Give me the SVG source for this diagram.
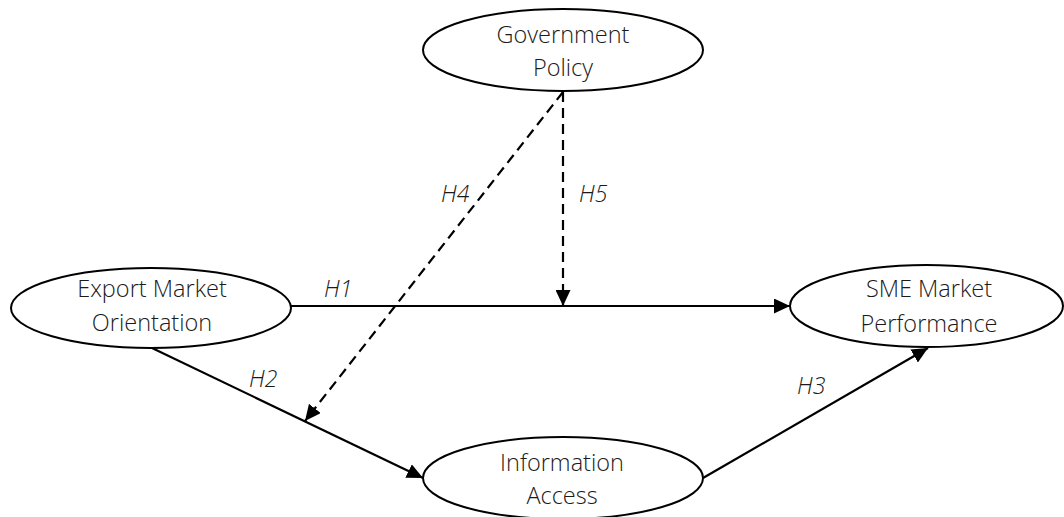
<svg xmlns="http://www.w3.org/2000/svg" width="1064" height="517" viewBox="0 0 1064 517">
<style>
.node ellipse{fill:#fff;stroke:#000;stroke-width:2}
.node text{font-family:"Open Sans","Noto Sans",sans-serif;font-weight:300;font-size:23.5px;fill:#1a1a1a;text-anchor:middle}
.lbl{font-family:"Open Sans","Noto Sans",sans-serif;font-weight:300;font-style:italic;font-size:23px;fill:#1a1a1a}
.edge{stroke:#000;stroke-width:2.2;fill:none}
.dash{stroke-dasharray:10 6}
</style>
<defs>
<marker id="ah" markerUnits="userSpaceOnUse" markerWidth="17" markerHeight="15" refX="16" refY="7.5" orient="auto">
<path d="M0,0 L16,7.5 L0,15 Z" fill="#000"/>
</marker>
</defs>
<g id="connectors">
<line class="edge" x1="291" y1="306" x2="790" y2="306" marker-end="url(#ah)"/>
<line class="edge" x1="152" y1="348" x2="423" y2="478" marker-end="url(#ah)"/>
<line class="edge" x1="703" y1="478" x2="928" y2="348" marker-end="url(#ah)"/>
<line class="edge dash" x1="563" y1="92" x2="305" y2="421" marker-end="url(#ah)"/>
<line class="edge dash" x1="563" y1="92" x2="563" y2="306" marker-end="url(#ah)"/>
<text class="lbl" x="324" y="297">H1</text>
<text class="lbl" x="249" y="387">H2</text>
<text class="lbl" x="797" y="394">H3</text>
<text class="lbl" x="441" y="202">H4</text>
<text class="lbl" x="579" y="202">H5</text>
</g>
<g id="government-policy" class="node">
<ellipse cx="563" cy="50" rx="140" ry="41"/>
<text x="563" y="43">Government</text>
<text x="563" y="76">Policy</text>
</g>
<g id="export-market-orientation" class="node">
<ellipse cx="151" cy="308" rx="140" ry="40"/>
<text x="152" y="297">Export Market</text>
<text x="152" y="331">Orientation</text>
</g>
<g id="sme-market-performance" class="node">
<ellipse cx="926.5" cy="306" rx="136.5" ry="41"/>
<text x="929" y="297">SME Market</text>
<text x="929" y="332">Performance</text>
</g>
<g id="information-access" class="node">
<ellipse cx="563" cy="478" rx="140" ry="41"/>
<text x="562" y="471">Information</text>
<text x="562" y="504">Access</text>
</g>
</svg>
